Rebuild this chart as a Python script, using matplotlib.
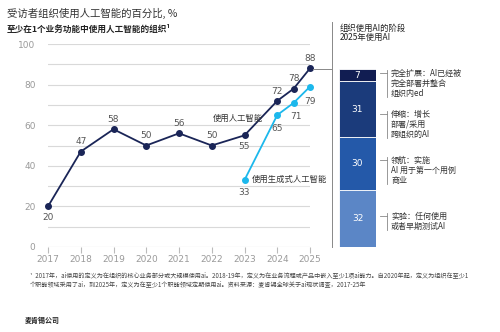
import matplotlib.pyplot as plt
from matplotlib.lines import Line2D

plt.rcParams['font.family'] = ['Noto Sans CJK SC', 'DejaVu Sans']

# --- data ---
years = [2017, 2018, 2019, 2020, 2021, 2022, 2023, 2024, 2025]
ai_use = [20, 47, 58, 50, 56, 50, 55, 72, 78, 88]
ai_x = [2017, 2018, 2019, 2020, 2021, 2022, 2023, 2024, 2024.5, 2025]
genai_x = [2023, 2024, 2024.5, 2025]
genai_use = [33, 65, 71, 79]

stage_values = [32, 30, 31, 7]
stage_colors = ['#5b86c6', '#2459a9', '#1b3b7b', '#111d52']
stage_labels = [
    ["实验：任何使用", "或者早期测试AI"],
    ["领航：实施", "AI 用于第一个用例", "商业"],
    ["伸缩：增长", "部署/采用", "跨组织的AI"],
    ["完全扩展：AI已经被", "完全部署并整合", "组织内ed"],
]
# pixel row of the first text line of each stage label
label_top = [216, 160, 114, 73]

NAVY = '#1a2557'
CYAN = '#1cb8ec'
GRAY = '#9a9a9a'
W, H = 500, 332


def fx(px):
    return px / W


def fy(py):
    return 1 - py / H


fig = plt.figure(figsize=(5, 3.32), dpi=100)

# --- line chart ---
ax = fig.add_axes([fx(48), fy(247), fx(310 - 48), (247 - 44) / H])
ax.set_xlim(2017, 2025)
ax.set_ylim(0, 100)
for g in range(10, 101, 10):
    ax.axhline(g, color='#d9d9d9', lw=0.8, zorder=0)
ax.axhline(0, color='#bbbbbb', lw=0.8, zorder=0)
for s in ax.spines.values():
    s.set_visible(False)
ax.set_yticks(range(0, 101, 20))
ax.set_xticks(years)
ax.tick_params(axis='y', length=0, labelsize=6.5, labelcolor=GRAY, pad=9)
ax.tick_params(axis='x', length=4, color='#bbbbbb', labelsize=6.5,
               labelcolor=GRAY, pad=2, direction='out')
for lbl in ax.get_yticklabels() + ax.get_xticklabels():
    lbl.set_fontfamily('DejaVu Sans')

ax.plot(ai_x, ai_use, color=NAVY, lw=1.3, marker='o', ms=4, clip_on=False, zorder=3)
ax.plot(genai_x, genai_use, color=CYAN, lw=1.3, marker='o', ms=4, clip_on=False, zorder=3)

above = [False, True, True, True, True, True, False, True, True, True]
for x, v, up in zip(ai_x, ai_use, above):
    ax.annotate(str(v), (x, v), xytext=(0, 7 if up else -8), textcoords='offset points',
                ha='center', va='center', fontsize=6.5, color='#555555',
                family='DejaVu Sans')
gen_off = [(0, -9), (0, -10), (2, -10), (0, -11)]
for x, v, off in zip(genai_x, genai_use, gen_off):
    ax.annotate(str(v), (x, v), xytext=off, textcoords='offset points',
                ha='center', va='center', fontsize=6.5, color='#555555',
                family='DejaVu Sans')

fig.text(fx(263), fy(118), "使用人工智能", fontsize=6, color='#333333',
         ha='right', va='center')
fig.text(fx(252), fy(179), "使用生成式人工智能", fontsize=6, color='#333333',
         ha='left', va='center')

# connector from 2025 point to the stage bar
fig.add_artist(Line2D([fx(313), fx(332)], [fy(69), fy(69)], color='#888888', lw=0.7))
fig.add_artist(Line2D([fx(332), fx(332)], [fy(22), fy(247)], color='#888888', lw=0.7))

# --- stacked bar ---
bx = fig.add_axes([fx(339), fy(247), fx(376 - 339), 178 / H])
bx.set_xlim(0, 1)
bx.set_ylim(0, 100)
bx.axis('off')
bottom = 0
for v, c, lines, top in zip(stage_values, stage_colors, stage_labels, label_top):
    bx.bar(0.5, v, width=1, bottom=bottom, color=c, edgecolor='white', linewidth=0.6)
    bx.text(0.5, bottom + v / 2, str(v), ha='center', va='center', fontsize=6.5,
            color='white', family='DejaVu Sans')
    bottom += v
    # bracket
    last = top + 10 * (len(lines) - 1)
    fig.add_artist(Line2D([fx(380), fx(387)], [fy(top), fy(top)],
                          color='#888888', lw=0.6))
    fig.add_artist(Line2D([fx(387), fx(387)], [fy(top - 3), fy(last + 4)],
                          color='#888888', lw=0.6))
    for i, line in enumerate(lines):
        fig.text(fx(391), fy(top + 10 * i), line, fontsize=5.8, color='#333333',
                 ha='left', va='center')

# --- titles and notes ---
fig.text(fx(7), fy(13), "受访者组织使用人工智能的百分比, %", fontsize=7.5,
         color='#333333', ha='left', va='center')
fig.text(fx(7), fy(29), "至少在1个业务功能中使用人工智能的组织¹", fontsize=6.2,
         color='#222222', ha='left', va='center', weight='bold')
fig.text(fx(340), fy(28), "组织使用AI的阶段", fontsize=6,
         color='#222222', ha='left', va='center')
fig.text(fx(340), fy(37), "2025年使用AI", fontsize=6,
         color='#222222', ha='left', va='center')

fig.text(fx(30), fy(275),
         "¹  2017年，ai使用的定义为在组织的核心业务部分或大规模使用ai。2018-19年，定义为在业务流程或产品中嵌入至少1项ai能力。自2020年起，定义为组织在至少1",
         fontsize=4.4, color='#444444', ha='left', va='center')
fig.text(fx(30), fy(284),
         "个职能领域采用了ai，到2025年，定义为在至少1个职能领域定期使用ai。资料来源：麦肯锡全球关于ai现状调查，2017-25年",
         fontsize=4.4, color='#444444', ha='left', va='center')
fig.text(fx(25), fy(320), "麦肯锡公司", fontsize=5, color='#222222',
         ha='left', va='center', weight='bold')

fig.savefig('out.png', dpi=100, facecolor='white')
